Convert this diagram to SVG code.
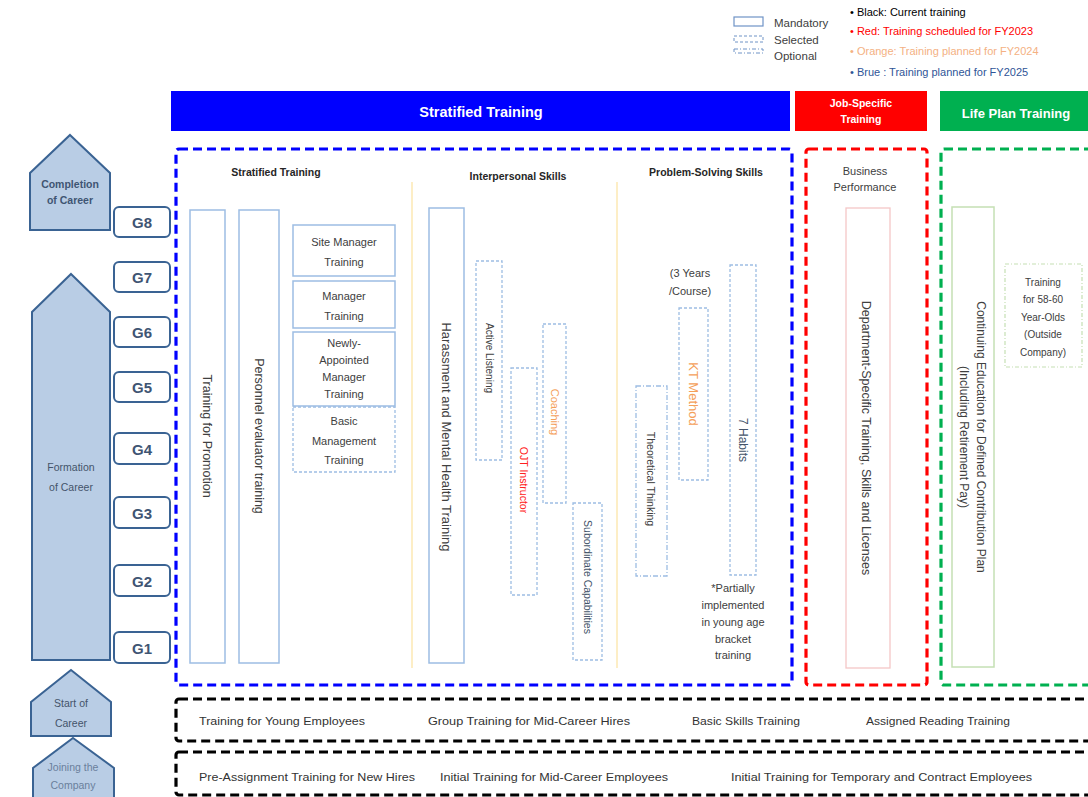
<svg xmlns="http://www.w3.org/2000/svg" width="1088" height="797" viewBox="0 0 1088 797">
<style>
text{font-family:"Liberation Sans","DejaVu Sans",sans-serif;fill:#404040}
.pent{fill:#b9cde5;stroke:#3a6393;stroke-width:2}
.pt{font-size:10.5px;fill:#44546a;text-anchor:middle}
.gbox{fill:#fff;stroke:#3a6393;stroke-width:2}
.gt{font-size:15px;font-weight:bold;fill:#3f5573;text-anchor:middle}
.bar{stroke:none}
.bt{fill:#fff;font-weight:bold;text-anchor:middle}
.frame{fill:none;stroke-width:3.2;stroke-dasharray:9,5}
.mand{fill:#fff;stroke:#9dbde3;stroke-width:1.5}
.sel{fill:#fff;stroke:#9dbde3;stroke-width:1.3;stroke-dasharray:3,2}
.opt{fill:#fff;stroke:#9dbde3;stroke-width:1.3;stroke-dasharray:5,2,1,2}
.hd{font-size:10.5px;font-weight:bold;fill:#262626;text-anchor:middle}
.c{text-anchor:middle}
.v{text-anchor:middle;dominant-baseline:central}
.div{stroke:#fde9b3;stroke-width:1.5}
.bot{font-size:11px;fill:#333}
</style>

<!-- Legend -->
<g id="legend">
<rect x="734" y="17" width="29" height="9" fill="#fff" stroke="#6f93c6" stroke-width="1.2"/>
<rect x="734" y="36" width="29" height="6" fill="#fff" stroke="#6f93c6" stroke-width="1" stroke-dasharray="3,2"/>
<rect x="734" y="49" width="29" height="4" fill="#fff" stroke="#6f93c6" stroke-width="1" stroke-dasharray="4,2,1,2"/>
<text x="774" y="27" font-size="11.5px">Mandatory</text>
<text x="774" y="44" font-size="11.5px">Selected</text>
<text x="774" y="60" font-size="11.5px">Optional</text>
<text x="850" y="16" font-size="11px" fill="#000" style="fill:#000">• Black: Current training</text>
<text x="850" y="35" font-size="11px" style="fill:#ff0000">• Red: Training scheduled for FY2023</text>
<text x="850" y="55" font-size="11px" style="fill:#f4b183">• Orange: Training planned for FY2024</text>
<text x="850" y="76" font-size="11px" style="fill:#2f5597">• Brue :  Training planned for FY2025</text>
</g>

<!-- Header bars -->
<g id="bar-stratified">
<rect class="bar" x="171" y="91" width="619" height="40" fill="#0000ff"/>
<text class="bt" x="481" y="117" font-size="14.5px">Stratified Training</text>
</g>
<g id="bar-job">
<rect class="bar" x="795" y="91" width="132" height="40" fill="#ff0000"/>
<text class="bt" x="861" y="107" font-size="10.5px">Job-Specific</text>
<text class="bt" x="861" y="123" font-size="10.5px">Training</text>
</g>
<g id="bar-life">
<rect class="bar" x="940" y="91" width="150" height="40" fill="#00b050"/>
<text class="bt" x="1016" y="118" font-size="13px">Life Plan Training</text>
</g>

<!-- Left career arrows -->
<g id="completion">
<polygon class="pent" points="70,135 110,173 110,230 30,230 30,173"/>
<text class="pt" x="70" y="188" style="font-weight:bold;fill:#3f5573">Completion</text>
<text class="pt" x="70" y="204" style="font-weight:bold;fill:#3f5573">of Career</text>
</g>
<g id="formation">
<polygon class="pent" points="71,274 110,312 110,660 32,660 32,312"/>
<text class="pt" x="71" y="471">Formation</text>
<text class="pt" x="71" y="491">of Career</text>
</g>
<g id="start">
<polygon class="pent" points="71,670 111,702 111,736 31,736 31,702"/>
<text class="pt" x="71" y="707">Start of</text>
<text class="pt" x="71" y="727">Career</text>
</g>
<g id="joining">
<polygon class="pent" points="73,738 114,768 114,800 33,800 33,768"/>
<text class="pt" x="73" y="771" style="fill:#6a7f9c">Joining the</text>
<text class="pt" x="73" y="789" style="fill:#6a7f9c">Company</text>
</g>

<!-- Grade boxes -->
<g id="G8"><rect class="gbox" x="114" y="207" width="56" height="30" rx="5"/><text class="gt" x="142" y="228">G8</text></g>
<g id="G7"><rect class="gbox" x="114" y="262" width="56" height="30" rx="5"/><text class="gt" x="142" y="283">G7</text></g>
<g id="G6"><rect class="gbox" x="114" y="317" width="56" height="30" rx="5"/><text class="gt" x="142" y="338">G6</text></g>
<g id="G5"><rect class="gbox" x="114" y="372" width="56" height="30" rx="5"/><text class="gt" x="142" y="393">G5</text></g>
<g id="G4"><rect class="gbox" x="114" y="433" width="56" height="31" rx="5"/><text class="gt" x="142" y="455">G4</text></g>
<g id="G3"><rect class="gbox" x="114" y="497" width="56" height="31" rx="5"/><text class="gt" x="142" y="519">G3</text></g>
<g id="G2"><rect class="gbox" x="114" y="565" width="56" height="31" rx="5"/><text class="gt" x="142" y="587">G2</text></g>
<g id="G1"><rect class="gbox" x="114" y="632" width="56" height="31" rx="5"/><text class="gt" x="142" y="654">G1</text></g>

<!-- Frames -->
<g id="frames">
<rect class="frame" x="176" y="149" width="616" height="536" rx="3" stroke="#0000ff"/>
<rect class="frame" x="806" y="149" width="121" height="536" rx="3" stroke="#ff0000"/>
<rect class="frame" x="941" y="149" width="160" height="536" rx="3" stroke="#00b050"/>
<rect class="frame" x="176" y="699" width="930" height="42" rx="3" stroke="#000"/>
<rect class="frame" x="176" y="752" width="930" height="43" rx="3" stroke="#000"/>
</g>

<!-- Divider lines -->
<g id="dividers">
<line class="div" x1="412" y1="182" x2="412" y2="668"/>
<line class="div" x1="617" y1="182" x2="617" y2="668"/>
</g>

<!-- Stratified column -->
<text class="hd" x="276" y="176">Stratified Training</text>
<g id="promotion">
<rect class="mand" x="190" y="210" width="35" height="453"/>
<text class="v" font-size="12.5px" transform="translate(207,436) rotate(90)">Training for Promotion</text>
</g>
<g id="evaluator">
<rect class="mand" x="239" y="210" width="40" height="453"/>
<text class="v" font-size="12.5px" transform="translate(259,436) rotate(90)">Personnel evaluator training</text>
</g>
<g id="site-manager">
<rect class="mand" x="293" y="225" width="102" height="51"/>
<text class="c" x="344" y="246" font-size="11px">Site Manager</text>
<text class="c" x="344" y="266" font-size="11px">Training</text>
</g>
<g id="manager">
<rect class="mand" x="293" y="281" width="102" height="47"/>
<text class="c" x="344" y="300" font-size="11px">Manager</text>
<text class="c" x="344" y="320" font-size="11px">Training</text>
</g>
<g id="newly-appointed">
<rect class="mand" x="293" y="332" width="102" height="74"/>
<text class="c" x="344" y="347" font-size="11px">Newly-</text>
<text class="c" x="344" y="364" font-size="11px">Appointed</text>
<text class="c" x="344" y="381" font-size="11px">Manager</text>
<text class="c" x="344" y="398" font-size="11px">Training</text>
</g>
<g id="basic-management">
<rect class="sel" x="293" y="407" width="102" height="65"/>
<text class="c" x="344" y="425" font-size="11px">Basic</text>
<text class="c" x="344" y="445" font-size="11px">Management</text>
<text class="c" x="344" y="464" font-size="11px">Training</text>
</g>

<!-- Interpersonal Skills -->
<text class="hd" x="518" y="180">Interpersonal Skills</text>
<g id="harassment">
<rect class="mand" x="429" y="208" width="35" height="455"/>
<text class="v" font-size="13px" transform="translate(446,437) rotate(90)">Harassment and Mental Health Training</text>
</g>
<g id="active-listening">
<rect class="sel" x="476" y="261" width="26" height="199"/>
<text class="v" font-size="10px" transform="translate(489,358) rotate(90)">Active Listening</text>
</g>
<g id="ojt">
<rect class="sel" x="511" y="368" width="26" height="227"/>
<text class="v" font-size="10.5px" style="fill:#ff2020" transform="translate(524,480) rotate(90)">OJT Instructor</text>
</g>
<g id="coaching">
<rect class="sel" x="543" y="324" width="23" height="179"/>
<text class="v" font-size="11px" style="fill:#f4a05a" transform="translate(555,412) rotate(90)">Coaching</text>
</g>
<g id="subordinate">
<rect class="sel" x="573" y="503" width="29" height="157"/>
<text class="v" font-size="10.5px" style="fill:#44546a" transform="translate(588,577) rotate(90)">Subordinate Capabilities</text>
</g>

<!-- Problem-Solving Skills -->
<text class="hd" x="706" y="176">Problem-Solving Skills</text>
<text class="c" x="690" y="277" font-size="11px">(3 Years</text>
<text class="c" x="690" y="295" font-size="11px">/Course)</text>
<g id="theoretical">
<rect class="opt" x="636" y="386" width="31" height="190"/>
<text class="v" font-size="10.5px" transform="translate(651,479) rotate(90)">Theoretical Thinking</text>
</g>
<g id="kt-method">
<rect class="sel" x="679" y="308" width="29" height="172"/>
<text class="v" font-size="13px" style="fill:#f4a05a" transform="translate(693,394) rotate(90)">KT Method</text>
</g>
<g id="seven-habits">
<rect class="sel" x="730" y="265" width="26" height="310"/>
<text class="v" font-size="12px" style="fill:#44546a" transform="translate(743,440) rotate(90)">7 Habits</text>
</g>
<g id="partial-note">
<text class="c" x="733" y="592" font-size="11px">*Partially</text>
<text class="c" x="733" y="609" font-size="11px">implemented</text>
<text class="c" x="733" y="626" font-size="11px">in young age</text>
<text class="c" x="733" y="643" font-size="11px">bracket</text>
<text class="c" x="733" y="659" font-size="11px">training</text>
</g>

<!-- Job-specific -->
<text class="c" x="865" y="175" font-size="11px">Business</text>
<text class="c" x="865" y="191" font-size="11px">Performance</text>
<g id="department">
<rect x="846" y="208" width="44" height="460" fill="#fff" stroke="#f4c7c7" stroke-width="1.3"/>
<text class="v" font-size="12.5px" transform="translate(866,438) rotate(90)">Department-Specific Training, Skills and Licenses</text>
</g>

<!-- Life plan -->
<g id="continuing">
<rect x="952" y="207" width="42" height="460" fill="#fff" stroke="#c5e0b4" stroke-width="1.5"/>
<text class="v" font-size="12px" transform="translate(981,437) rotate(90)">Continuing Education for Defined Contribution Plan</text>
<text class="v" font-size="12px" transform="translate(964,437) rotate(90)">(Including Retirement Pay)</text>
</g>
<g id="over58">
<rect x="1005" y="264" width="77" height="103" fill="#fff" stroke="#c5e0b4" stroke-width="1.2" stroke-dasharray="4,2,1,2"/>
<text class="c" x="1043" y="286" font-size="10px">Training</text>
<text class="c" x="1043" y="303" font-size="10px">for 58-60</text>
<text class="c" x="1043" y="321" font-size="10px">Year-Olds</text>
<text class="c" x="1043" y="338" font-size="10px">(Outside</text>
<text class="c" x="1043" y="356" font-size="10px">Company)</text>
</g>

<!-- Bottom rows -->
<g id="row-start">
<text class="bot" x="199" y="725" textLength="166" lengthAdjust="spacingAndGlyphs">Training for Young Employees</text>
<text class="bot" x="428" y="725" textLength="202" lengthAdjust="spacingAndGlyphs">Group Training for Mid-Career Hires</text>
<text class="bot" x="692" y="725" textLength="108" lengthAdjust="spacingAndGlyphs">Basic Skills Training</text>
<text class="bot" x="866" y="725" textLength="144" lengthAdjust="spacingAndGlyphs">Assigned Reading Training</text>
</g>
<g id="row-joining">
<text class="bot" x="199" y="781" textLength="216" lengthAdjust="spacingAndGlyphs">Pre-Assignment Training for New Hires</text>
<text class="bot" x="440" y="781" textLength="228" lengthAdjust="spacingAndGlyphs">Initial Training for Mid-Career Employees</text>
<text class="bot" x="731" y="781" textLength="301" lengthAdjust="spacingAndGlyphs">Initial Training for Temporary and Contract Employees</text>
</g>
</svg>
